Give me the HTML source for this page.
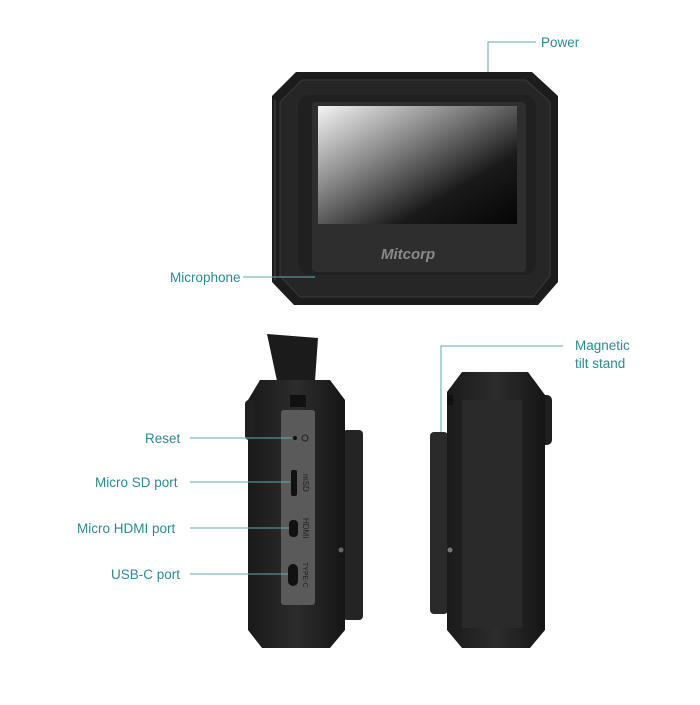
<!DOCTYPE html>
<html><head><meta charset="utf-8"><style>
html,body{margin:0;padding:0;background:#fff;}
svg text{font-family:"Liberation Sans",sans-serif;fill:#2a8a93;font-size:13.5px;}
</style></head><body>
<svg width="700" height="700" viewBox="0 0 700 700" xmlns="http://www.w3.org/2000/svg">
<defs>
<linearGradient id="scr" x1="0" y1="0" x2="1" y2="1">
<stop offset="0" stop-color="#f4f4f4"/><stop offset="0.35" stop-color="#8a8a8a"/><stop offset="0.7" stop-color="#1a1a1a"/><stop offset="1" stop-color="#050505"/></linearGradient>
<linearGradient id="body" x1="0" y1="0" x2="1" y2="0">
<stop offset="0" stop-color="#1a1a1a"/><stop offset="0.5" stop-color="#2c2c2c"/><stop offset="1" stop-color="#151515"/></linearGradient>
</defs>
<!-- front device -->
<path d="M296,72 L532,72 L558,96 L558,282 L538,305 L294,305 L272,282 L272,96 Z" fill="#1c1c1c"/>
<path d="M302,80 L526,80 L550,102 L550,276 L533,297 L300,297 L280,276 L280,102 Z" fill="#262626" stroke="#3a3a3a"/>
<rect x="298" y="95" width="238" height="180" rx="12" fill="#202020"/>
<rect x="312" y="102" width="214" height="170" rx="4" fill="#2e2e2e"/>
<rect x="318" y="106" width="199" height="118" fill="url(#scr)"/>
<text x="381" y="259" style="fill:#8a8a8a;font-size:15px;font-style:italic;font-weight:bold">Mitcorp</text>
<line x1="275" y1="100" x2="275" y2="280" stroke="#333" stroke-width="2"/>
<!-- left side device -->
<path d="M267,334 L318,338 L314,395 L280,395 Z" fill="#1b1b1b"/>
<rect x="343" y="430" width="20" height="190" rx="4" fill="#242424"/>
<path d="M260,380 L330,380 L345,400 L345,630 L330,648 L262,648 L248,630 L248,400 Z" fill="url(#body)"/>
<rect x="245" y="400" width="10" height="40" rx="4" fill="#202020"/>
<rect x="281" y="410" width="34" height="195" rx="3" fill="#5a5a5a"/>
<rect x="290" y="395" width="16" height="12" fill="#111"/>
<circle cx="295" cy="438" r="2" fill="#111"/>
<circle cx="305" cy="438" r="3" fill="none" stroke="#222"/>
<rect x="291" y="470" width="6" height="26" rx="2" fill="#111"/>
<text x="0" y="0" transform="translate(303,474) rotate(90)" style="fill:#222;font-size:8px">mSD</text>
<rect x="289" y="520" width="9" height="17" rx="4" fill="#111"/>
<text x="0" y="0" transform="translate(303,518) rotate(90)" style="fill:#222;font-size:8px">HDMI</text>
<rect x="288" y="564" width="10" height="22" rx="5" fill="#111"/>
<text x="0" y="0" transform="translate(303,562) rotate(90)" style="fill:#222;font-size:7px">TYPE-C</text>
<circle cx="341" cy="550" r="2.5" fill="#666"/>
<!-- right side device -->
<rect x="430" y="432" width="18" height="182" rx="4" fill="#2a2a2a"/>
<rect x="540" y="395" width="12" height="50" rx="5" fill="#1f1f1f"/>
<path d="M462,372 L528,372 L545,395 L545,630 L530,648 L462,648 L447,630 L447,392 Z" fill="url(#body)"/>
<rect x="462" y="400" width="60" height="228" fill="#2a2a2a"/>
<circle cx="450" cy="550" r="2.5" fill="#777"/>
<rect x="447" y="395" width="6" height="10" fill="#111"/>
<!-- labels & leaders on top -->
<g stroke="#5fa9b0" stroke-width="1" fill="none">
<polyline points="536,42 488,42 488,72"/>
<line x1="243" y1="277" x2="315" y2="277"/>
<line x1="190" y1="438" x2="292" y2="438"/>
<line x1="190" y1="482" x2="290" y2="482"/>
<line x1="190" y1="528" x2="289" y2="528"/>
<line x1="190" y1="574" x2="288" y2="574"/>
<polyline points="563,346 441,346 441,432"/>
</g>
<text x="541" y="47">Power</text>
<text x="170" y="282">Microphone</text>
<text x="145" y="443">Reset</text>
<text x="95" y="487">Micro SD port</text>
<text x="77" y="533">Micro HDMI port</text>
<text x="111" y="579">USB-C port</text>
<text x="575" y="350">Magnetic</text>
<text x="575" y="368">tilt stand</text>
</svg>
</body></html>
